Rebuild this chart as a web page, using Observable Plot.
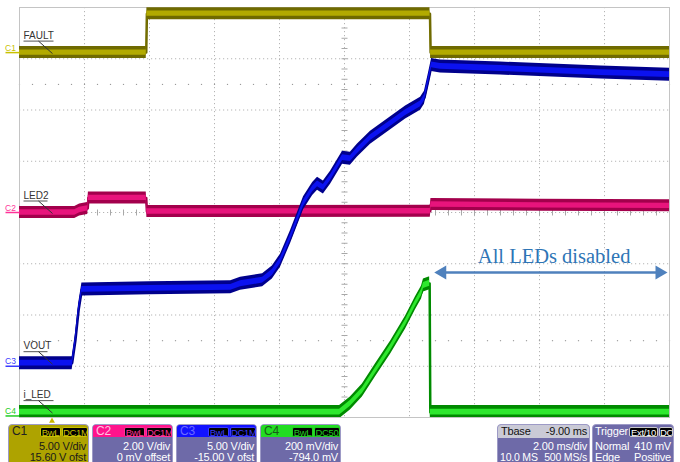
<!DOCTYPE html>
<html><head><meta charset="utf-8">
<script src="https://cdn.jsdelivr.net/npm/d3@7"></script>
<script src="https://cdn.jsdelivr.net/npm/@observablehq/plot@0.6"></script>
<style>
html,body{margin:0;padding:0;background:#fff;overflow:hidden;}
#chart svg{display:block;}
#bar{position:relative;width:680px;height:38px;overflow:hidden;font-family:"Liberation Sans",Arial,sans-serif;font-size:11px;}
.box{position:absolute;top:0;height:44px;box-sizing:border-box;border:1px solid #9d9ac6;border-radius:4px 4px 0 0;overflow:hidden;background:#6e6aa8;color:#fff;letter-spacing:-0.2px;}
.t{position:absolute;white-space:nowrap;line-height:11px;}
.hd{position:absolute;left:0;top:0;right:0;height:12px;}
.pill{position:absolute;top:1.5px;height:10px;line-height:9px;font-size:9.5px;background:#000;border-radius:2px;text-align:center;box-sizing:border-box;letter-spacing:-0.3px;overflow:hidden;}
</style></head><body>
<div id="chart"></div>
<div id="bar"></div>
<script>
// ---------- data (time in ms relative to trigger) ----------
const faultT = [-1, 2.9, 2.92, 11.63, 11.65, 19];
const faultV = [0, 0, 3.8, 3.8, 0, 0];                       // V

const led2T = [-1, 0.7, 0.85, 1.05, 1.1, 1.12, 2.9, 2.92, 11.64, 11.66, 15, 19];
const led2V = [0, 0, 0.1, 0.15, 0.16, 0.57, 0.57, 0.04, 0.05, 0.31, 0.28, 0.26]; // V

const voutT = [-1, 0.62, 0.72, 0.82, 0.92, 3.0, 5.5, 5.8, 6.48, 6.78, 7.03, 7.34, 7.74, 8.02, 8.17, 8.35, 8.57, 8.94, 9.18, 9.40, 9.80, 10.42, 10.88, 11.34, 11.46, 11.58, 11.68, 11.95, 13.8, 16.9, 19];
const voutV = [0.3, 0.3, 2.5, 5.5, 7.5, 7.6, 7.7, 8.05, 8.4, 9.15, 10.3, 12.6, 15.9, 17.3, 17.8, 17.45, 18.4, 20.35, 20.25, 21.05, 22.3, 23.7, 24.75, 25.6, 26.2, 27.9, 29.4, 29.25, 29.05, 28.65, 28.45]; // V

const iledT = [-1, 8.85, 9.18, 9.55, 9.95, 10.42, 10.88, 11.18, 11.37, 11.43, 11.6, 11.62, 11.64, 19];
const iledV = [15, 15, 49, 99, 177, 267, 365, 439, 482, 509, 517, 517, 15, 15]; // mV

const chNames = ["C1", "C2", "C3", "C4"];
const chLabels = ["FAULT", "LED2", "VOUT", "i_LED"];
const chScale = [5, 2, 5, 200];          // units / div
const chOffset = [15.6, 0, -15, -794];   // units
const chScaleText = ["5.00 V/div", "2.00 V/div", "5.00 V/div", "200 mV/div"];
const chOffsetText = ["15.60 V ofst", "0 mV offset", "-15.00 V ofst", "-794.0 mV"];
const chCoupling = ["DC1M", "DC1M", "DC1M", "DC50"];
const tbaseText = ["Tbase", "-9.00 ms", "2.00 ms/div", "10.0 MS", "500 MS/s"];
const triggerText = ["Trigger", "Ext/10", "DC", "Normal", "410 mV", "Edge", "Positive"];
const noteText = "All LEDs disabled";
const noteSpan = [11.7, 19];   // ms
const noteLevel = -1.17;       // div
const triggerTime = 0;         // ms

// ---------- styles ----------
const chDark = ["#6f6a00", "#a3004c", "#00008c", "#008a00"];
const chLight = ["#b2aa00", "#e8147c", "#0b12f0", "#2ee82e"];
const chTag = ["#c9c100", "#ff3399", "#3b3bff", "#22cc22"];
const chHalfPx = [6, 6, 6.5, 6.5];

const W = 680, H = 424, mL = 19, mR = 11, mT = 7, mB = 7;
const msPx = 20 / (W - mL - mR), divPx = 8 / (H - mT - mB);

const series = [[faultT, faultV], [led2T, led2V], [voutT, voutV], [iledT, iledV]];
const rows = series.map(([T, V], i) => T.map((t, j) => ({t, p: (V[j] + chOffset[i]) / chScale[i]})));
const ground = chOffset.map((o, i) => o / chScale[i]);

const traceMarks = [];
[0, 1, 3, 2].forEach(i => {
  const h = chHalfPx[i] * divPx;
  traceMarks.push(
    Plot.areaY(rows[i], {x: "t", y1: d => d.p - h, y2: d => d.p + h, fill: chDark[i], clip: true}),
    Plot.line(rows[i], {x: "t", y: "p", stroke: chDark[i], strokeWidth: 2.5, clip: true}),
    Plot.areaY(rows[i], {x: "t", y1: d => d.p - h * 0.45, y2: d => d.p + h * 0.45, fill: chLight[i], clip: true})
  );
});

const labelData = chLabels.map((name, i) => ({name, i, p: rows[i][0].p, g: ground[i], w: name.length * 6}));

const gridX = d3.range(1, 18, 2);
const gridY = d3.range(-3, 4, 1);
const vTicks = d3.range(-4, 4.001, 0.2).map(y => ({y}));
const hTicks = d3.range(-1, 19.001, 0.4).map(x => ({x}));
const dotRows = [];
[-2.5, 2.5].forEach(y => d3.range(-1, 19.001, 0.4).forEach(x => dotRows.push({x, y})));

const headOff = 10 * msPx;
const chart = Plot.plot({
  width: W, height: H,
  marginLeft: mL, marginRight: mR, marginTop: mT, marginBottom: mB,
  x: {domain: [-1, 19], axis: null},
  y: {domain: [-4, 4], axis: null},
  style: {background: "white", fontFamily: "Liberation Sans, Arial, sans-serif", overflow: "visible"},
  marks: [
    Plot.ruleX(gridX, {stroke: "#b5b5b5", strokeDasharray: "1.2,2.8"}),
    Plot.ruleY(gridY, {stroke: "#b5b5b5", strokeDasharray: "1.2,2.8"}),
    Plot.link(vTicks, {x1: 9 - 3 * msPx, x2: 9 + 3 * msPx, y1: "y", y2: "y", stroke: "#a8a8a8"}),
    Plot.link(hTicks, {x1: "x", x2: "x", y1: -3 * divPx, y2: 3 * divPx, stroke: "#a8a8a8"}),
    Plot.dot(dotRows, {x: "x", y: "y", r: 0.7, fill: "#9a9a9a"}),
    Plot.frame({stroke: "#c4c4c4"}),
    ...traceMarks,
    // channel labels with leaders
    Plot.text(labelData, {x: -1, y: "p", text: "name", dx: 4, dy: -17, textAnchor: "start", fontSize: 10, fill: "#333"}),
    Plot.link(labelData, {x1: -1 + 4 * msPx, x2: d => -1 + (4 + d.w) * msPx, y1: d => d.p + 11.5 * divPx, y2: d => d.p + 11.5 * divPx, stroke: "#555"}),
    Plot.link(labelData, {x1: -1 + 19 * msPx, x2: -1 + 33 * msPx, y1: d => d.p + 11.5 * divPx, y2: d => d.p - 1 * divPx, stroke: "#333"}),
    // channel ground tags
    Plot.text(labelData, {x: -1, y: "g", text: (d) => chNames[d.i], dx: -9, dy: -4.5, fontSize: 8.5, fill: (d) => chTag[d.i], textAnchor: "middle"}),
    Plot.link(labelData, {x1: -1 - 14 * msPx, x2: -1, y1: "g", y2: "g", stroke: (d) => chTag[d.i], strokeWidth: 1.5}),
    // annotation
    Plot.ruleY([noteLevel], {x1: noteSpan[0] + headOff, x2: noteSpan[1] - headOff, stroke: "#4f81bd", strokeWidth: 2.5}),
    Plot.dot([{x: noteSpan[0] + headOff, r: -90}, {x: noteSpan[1] - headOff, r: 90}], {x: "x", y: noteLevel, symbol: "triangle2", r: 6.6, rotate: "r", fill: "#4f81bd", stroke: "none"}),
    Plot.text([noteText], {x: (noteSpan[0] + noteSpan[1]) / 2 + 0.1, y: noteLevel, dy: -16, fontSize: 20.5, fontFamily: "Liberation Serif, Times New Roman, serif", fill: "#2e75b6"}),
    // trigger marker
    Plot.dot([triggerTime], {x: d => d, y: -4 - 3.5 * divPx, symbol: "triangle2", r: 2.8, fill: "#c8b400", stroke: "none"})
  ]
});
document.getElementById("chart").appendChild(chart);

// ---------- info bar ----------
const bar = document.getElementById("bar");
const boxLeft = [8, 92, 176, 260];
const hdColor = [null, "#ff148c", "#1212ff", "#22dd22"];
const hdText = ["#222", "#ffc4e0", "#6a6aff", "#1a5a1a"];
let html = "";
chNames.forEach((c, i) => {
  const bg = i === 0 ? "background:#aea300;color:#1a1a1a;" : "";
  html += `<div class="box" style="left:${boxLeft[i]}px;width:81px;${bg}">`;
  if (hdColor[i]) html += `<div class="hd" style="background:${hdColor[i]}"></div>`;
  html += `<div class="t" style="left:3px;top:1px;font-size:12px;color:${hdText[i]}">${c}</div>`;
  html += `<div class="pill" style="left:31px;width:21px;color:${chTag[i]};border:1px solid ${chTag[i]}">BwL</div>`;
  html += `<div class="pill" style="left:53px;width:26px;color:${chTag[i]};border:1px solid ${chTag[i]}">${chCoupling[i]}</div>`;
  html += `<div class="t" style="right:2px;top:16px;">${chScaleText[i]}</div>`;
  html += `<div class="t" style="right:2px;top:27px;">${chOffsetText[i]}</div>`;
  html += `</div>`;
});
html += `<div class="box" style="left:497px;width:93px;">
  <div class="hd" style="background:#cacad6;height:13px"></div>
  <div class="t" style="left:3px;top:1px;color:#111">${tbaseText[0]}</div>
  <div class="t" style="right:2px;top:1px;color:#111">${tbaseText[1]}</div>
  <div class="t" style="right:2px;top:16px;">${tbaseText[2]}</div>
  <div class="t" style="left:2px;top:27px;font-size:10.5px">${tbaseText[3]}</div>
  <div class="t" style="right:2px;top:27px;font-size:10.5px">${tbaseText[4]}</div>
</div>`;
html += `<div class="box" style="left:592px;width:82px;">
  <div class="t" style="left:2px;top:1px;">${triggerText[0]}</div>
  <div class="pill" style="left:36px;width:29px;color:#fff;border:1px solid #ccc">${triggerText[1]}</div>
  <div class="pill" style="left:66px;width:14px;color:#fff;border:1px solid #ccc">${triggerText[2]}</div>
  <div class="t" style="left:2px;top:16px;">${triggerText[3]}</div>
  <div class="t" style="right:2px;top:16px;">${triggerText[4]}</div>
  <div class="t" style="left:2px;top:27px;">${triggerText[5]}</div>
  <div class="t" style="right:2px;top:27px;">${triggerText[6]}</div>
</div>`;
bar.innerHTML = html;
</script>
</body></html>
